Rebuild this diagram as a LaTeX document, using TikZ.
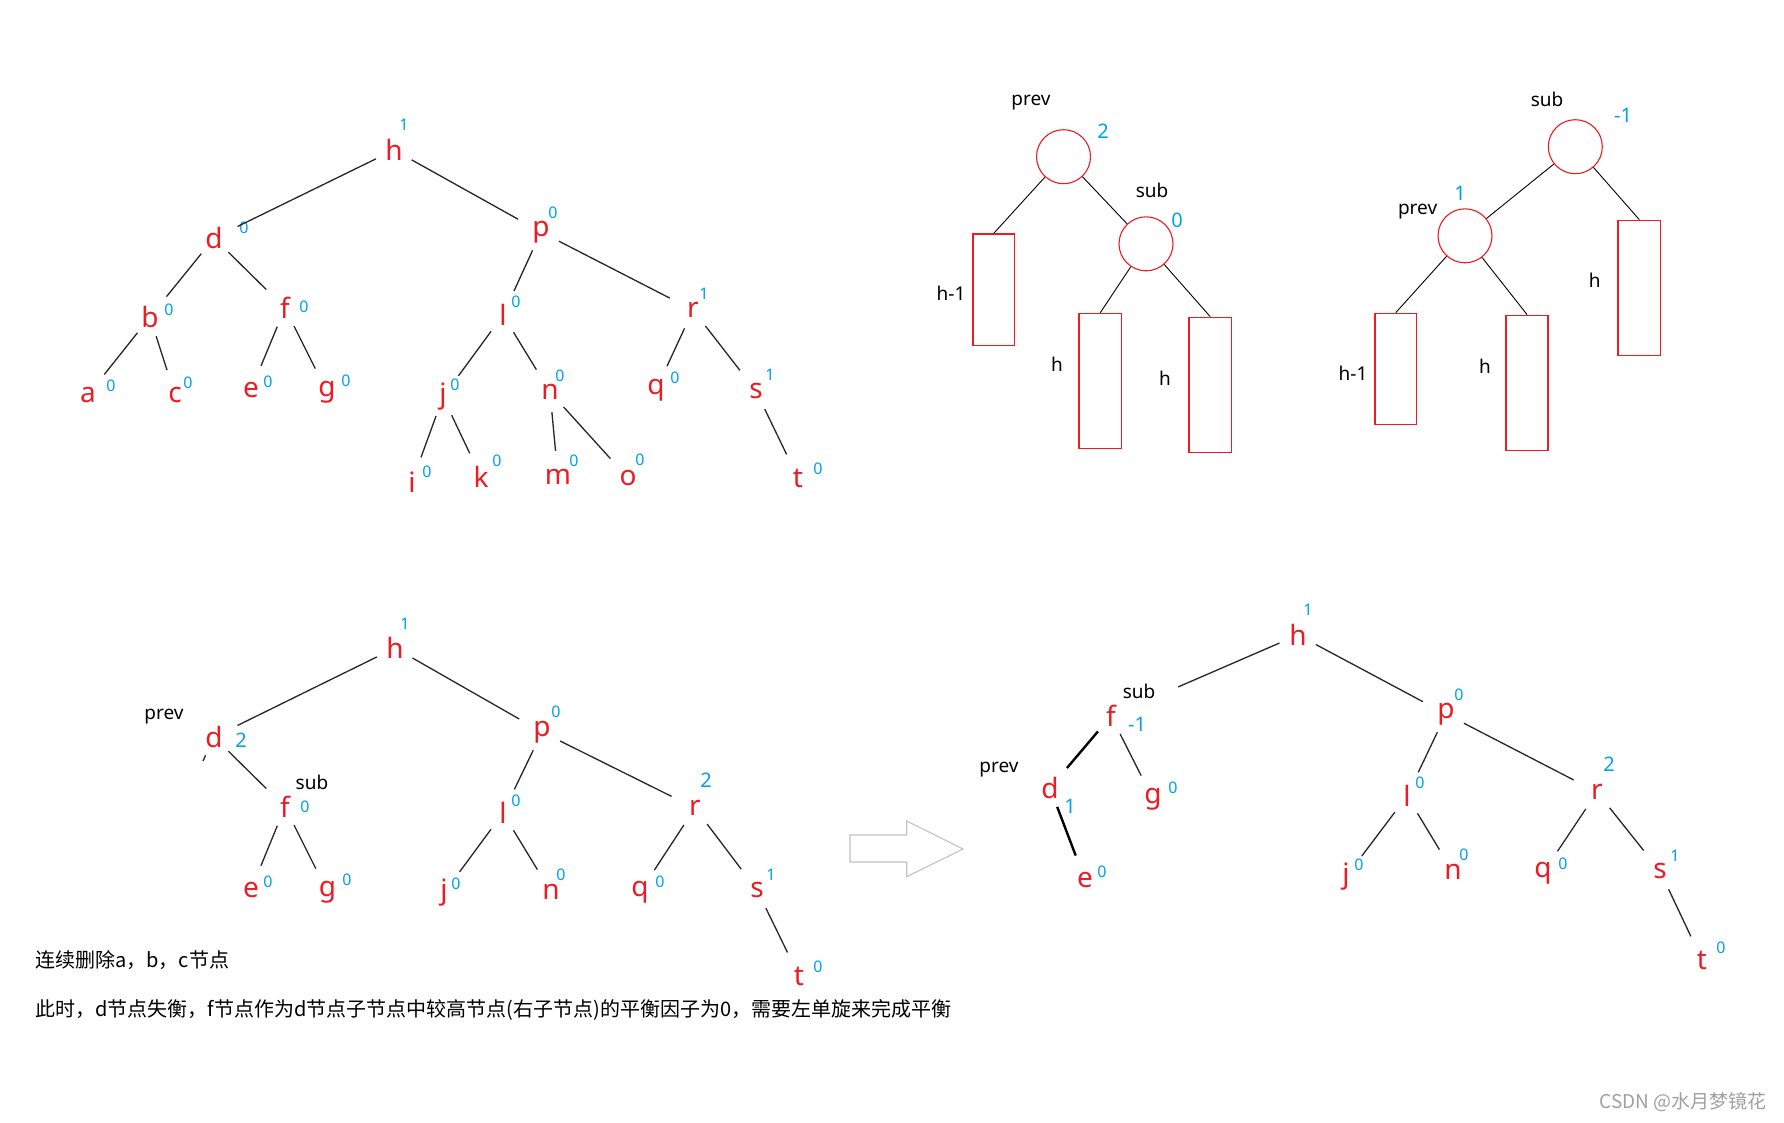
\documentclass[tikz,border=0pt]{standalone}
\usepackage{fontspec}
\setmainfont{Noto Sans}
\newfontfamily\cjk{Noto Sans CJK SC}
\definecolor{nred}{RGB}{237,28,36}
\definecolor{nblue}{RGB}{0,162,232}
\definecolor{ngray}{RGB}{195,195,195}
\definecolor{wmgray}{RGB}{160,160,160}
\newcommand\mytreefont{\fontsize{28}{30}\selectfont}
\newcommand\mybffont{\fontsize{16}{18}\selectfont}
\newcommand\mybigbffont{\fontsize{20}{22}\selectfont}
\newcommand\mylabfont{\fontsize{19}{21}\selectfont}
\newcommand\mytxtfont{\cjk\fontsize{20}{22}\selectfont}
\newcommand\mywmfont{\cjk\fontsize{19}{21}\selectfont}
\begin{document}
\begin{tikzpicture}[x=1pt,y=-1pt,
  tn/.style={circle,inner sep=0pt,minimum size=40pt,text=nred,font=\mytreefont},
  bf/.style={inner sep=0pt,text=nblue,font=\mybffont},
  bfb/.style={inner sep=0pt,text=nblue,font=\mybigbffont},
  blab/.style={inner sep=0pt,text=black,font=\mylabfont},
  tedge/.style={draw=black!85,line width=1.3pt,shorten >=6pt},
  thedge/.style={draw=black,line width=2.4pt,shorten >=6pt},
  dedge/.style={draw=black,line width=0.9pt},
  rring/.style={circle,draw=nred,line width=1.1pt,minimum size=54pt,inner sep=0pt},
  rbox/.style={rectangle,draw=nred,line width=1.3pt,inner sep=0pt},
  txt/.style={inner sep=0pt,anchor=west,font=\mytxtfont}
]
\fill[white] (0,0) rectangle (1784,1122);
\useasboundingbox (0,0) rectangle (1784,1122);

% ---------------- top-left tree ----------------
\node[tn] (Ah) at (394,150) {h};  \node[bf] (Ah1) at (404,125) {1};
\node[tn] (Ad) at (214,238) {d};  \node[bf] (Ad1) at (244,228) {0};
\node[tn] (Ap) at (541,232) {p};  \node[bf] (Ap1) at (553,213) {0};
\node[tn] (Ab) at (150,317) {b};  \node[bf] (Ab1) at (169,310) {0};
\node[tn] (Af) at (285,308) {f};  \node[bf] (Af1) at (304,307) {0};
\node[tn] (Al) at (503,315) {l};  \node[bf] (Al1) at (516,302) {0};
\node[tn] (Ar) at (693,310) {r};  \node[bf] (Ar1) at (704,294) {1};
\node[tn] (Aa) at (88,395) {a};   \node[bf] (Aa1) at (111,386) {0};
\node[tn] (Ac) at (175,395) {c};  \node[bf] (Ac1) at (188,383) {0};
\node[tn] (Ae) at (251,390) {e};  \node[bf] (Ae1) at (268,382) {0};
\node[tn] (Ag) at (327,392) {g};  \node[bf] (Ag1) at (346,381) {0};
\node[tn] (Aj) at (443,397) {j};  \node[bf] (Aj1) at (455,385) {0};
\node[tn] (An) at (550,392) {n};  \node[bf] (An1) at (560,376) {0};
\node[tn] (Aq) at (656,390) {q};  \node[bf] (Aq1) at (675,378) {0};
\node[tn] (As) at (756,391) {s};  \node[bf] (As1) at (770,375) {1};
\node[tn] (Ai) at (412,482) {i};  \node[bf] (Ai1) at (427,472) {0};
\node[tn] (Ak) at (481,477) {k};  \node[bf] (Ak1) at (497,461) {0};
\node[tn] (Am) at (558,477) {m};  \node[bf] (Am1) at (574,461) {0};
\node[tn] (Ao) at (628,478) {o};  \node[bf] (Ao1) at (640,460) {0};
\node[tn] (At) at (798,478) {t};  \node[bf] (At1) at (818,469) {0};
\draw[tedge] (Ah) -- (Ad);
\draw[tedge] (Ah) -- (Ap);
\draw[tedge] (Ad) -- (Ab);
\draw[tedge] (Ad) -- (Af);
\draw[tedge] (Ap) -- (Al);
\draw[tedge] (Ap) -- (Ar);
\draw[tedge] (Ab) -- (Aa);
\draw[tedge] (Ab) -- (Ac);
\draw[tedge] (Af) -- (Ae);
\draw[tedge] (Af) -- (Ag);
\draw[tedge] (Al) -- (Aj);
\draw[tedge] (Al) -- (An);
\draw[tedge] (Ar) -- (Aq);
\draw[tedge] (Ar) -- (As);
\draw[tedge] (Aj) -- (Ai);
\draw[tedge] (Aj) -- (Ak);
\draw[tedge] (An) -- (Am);
\draw[tedge] (An) -- (Ao);
\draw[tedge] (As) -- (At);

% ---------------- top-right diagram (before) ----------------
\node[rring] (Bc1) at (1063.5,156.7) {};
\node[blab] (Bprev) at (1031,103) {prev};
\node[bfb] (Bc1b) at (1103,131) {2};
\node[rring] (Bc2) at (1146,243.8) {};
\node[blab] (Bsub) at (1152,190) {sub};
\node[bfb] (Bc2b) at (1177,220) {0};
\node[rbox,minimum width=41.5pt,minimum height=111.7pt] (Br1) at (993.75,289.8) {};
\node[rbox,minimum width=42.6pt,minimum height=135pt] (Br2) at (1100.3,380.8) {};
\node[rbox,minimum width=42.5pt,minimum height=135pt] (Br3) at (1210.25,384.8) {};
\node[blab] (Bl1) at (951,293) {h-1};
\node[blab] (Bl2) at (1057,364) {h};
\node[blab] (Bl3) at (1165,378) {h};
\draw[dedge] (Bc1) -- (Br1.north);
\draw[dedge] (Bc1) -- (Bc2);
\draw[dedge] (Bc2) -- (Br2.north);
\draw[dedge] (Bc2) -- (Br3.north);

% ---------------- top-right diagram (after) ----------------
\node[rring] (Cc1) at (1575.3,146.7) {};
\node[blab] (Csub) at (1547,99) {sub};
\node[bfb] (Cc1b) at (1623,115) {-1};
\node[rring] (Cc2) at (1465,235.8) {};
\node[blab] (Cprev) at (1417.6,212) {prev};
\node[bfb] (Cc2b) at (1460,193) {1};
\node[rbox,minimum width=41.5pt,minimum height=111pt] (Cr1) at (1395.75,368.8) {};
\node[rbox,minimum width=42pt,minimum height=135pt] (Cr2) at (1527,382.7) {};
\node[rbox,minimum width=42.6pt,minimum height=135pt] (Cr3) at (1639.3,287.8) {};
\node[blab] (Cl1) at (1353,373) {h-1};
\node[blab] (Cl2) at (1485,366) {h};
\node[blab] (Cl3) at (1594.6,280.7) {h};
\draw[dedge] (Cc1) -- (Cc2);
\draw[dedge] (Cc1) -- (Cr3.north);
\draw[dedge] (Cc2) -- (Cr1.north);
\draw[dedge] (Cc2) -- (Cr2.north);

% ---------------- bottom-left tree ----------------
\node[tn] (Dh) at (395,648) {h};  \node[bf] (Dh1) at (405,624) {1};
\node[tn] (Dd) at (214,737) {d};  \node[bfb] (Dd1) at (241,740) {2};
\node[blab] (Dprev) at (164,717) {prev};
\node[tn] (Dp) at (542,732) {p};  \node[bf] (Dp1) at (556,712) {0};
\node[tn] (Df) at (285,807) {f};  \node[bf] (Df1) at (305,807) {0};
\node[blab] (Dsub) at (312,782) {sub};
\node[tn] (Dl) at (503,813) {l};  \node[bf] (Dl1) at (516,801) {0};
\node[tn] (Dr) at (695,808) {r};  \node[bfb] (Dr1) at (706,780) {2};
\node[tn] (De) at (251,890) {e};  \node[bf] (De1) at (268,882) {0};
\node[tn] (Dg) at (327.5,892) {g}; \node[bf] (Dg1) at (347,880) {0};
\node[tn] (Dj) at (444,893) {j};  \node[bf] (Dj1) at (456,884) {0};
\node[tn] (Dn) at (551,892) {n};  \node[bf] (Dn1) at (561,875) {0};
\node[tn] (Dq) at (640,892) {q};  \node[bf] (Dq1) at (660,882) {0};
\node[tn] (Ds) at (757,890) {s};  \node[bf] (Ds1) at (771,875) {1};
\node[tn] (Dt) at (799,976) {t};  \node[bf] (Dt1) at (818,967) {0};
\coordinate (Dstub) at (203,761);
\draw[tedge] (Dh) -- (Dd);
\draw[tedge] (Dh) -- (Dp);
\draw[tedge] (Dd) -- (Df);
\draw[tedge,shorten >=0pt] (Dd) -- (Dstub);
\draw[tedge] (Dp) -- (Dl);
\draw[tedge] (Dp) -- (Dr);
\draw[tedge] (Df) -- (De);
\draw[tedge] (Df) -- (Dg);
\draw[tedge] (Dl) -- (Dj);
\draw[tedge] (Dl) -- (Dn);
\draw[tedge] (Dr) -- (Dq);
\draw[tedge] (Dr) -- (Ds);
\draw[tedge] (Ds) -- (Dt);

\node[txt] (T1) at (35,960) {连续删除a，b，c节点};
\node[txt] (T2) at (35,1010) {此时，d节点失衡，f节点作为d节点子节点中较高节点(右子节点)的平衡因子为0，需要左单旋来完成平衡};

% ---------------- hollow arrow ----------------
\draw[ngray,line width=1.1pt,line join=miter] (850,835) -- (906.7,835) -- (906.7,821) -- (963,849) -- (906.7,876.7) -- (906.7,862) -- (850,862) -- cycle;

% ---------------- bottom-right tree ----------------
\node[tn] (Eh) at (1298,635) {h};  \node[bf] (Eh1) at (1308,610) {1};
\node[tn] (Ef) at (1111,716) {f};  \node[bfb] (Ef1) at (1137,724) {-1};
\node[blab] (Esub) at (1139,691) {sub};
\node[tn] (Ep) at (1446,714) {p};  \node[bf] (Ep1) at (1459,695) {0};
\node[tn] (Ed) at (1050,788) {d};  \node[bfb] (Ed1) at (1070,806) {1};
\node[blab] (Eprev) at (999,770) {prev};
\node[tn] (Eg) at (1153,799) {g};  \node[bf] (Eg1) at (1173,788) {0};
\node[tn] (El) at (1407,796) {l};  \node[bf] (El1) at (1420,783) {0};
\node[tn] (Er) at (1597,792) {r};  \node[bfb] (Er1) at (1609,764) {2};
\node[tn] (Ee) at (1085,880) {e};  \node[bf] (Ee1) at (1102,872) {0};
\node[tn] (Ej) at (1346,877) {j};  \node[bf] (Ej1) at (1359,865) {0};
\node[tn] (En) at (1453,872) {n};  \node[bf] (En1) at (1464,855) {0};
\node[tn] (Eq) at (1543,873) {q};  \node[bf] (Eq1) at (1563,864) {0};
\node[tn] (Es) at (1660,871) {s};  \node[bf] (Es1) at (1675,856) {1};
\node[tn] (Et) at (1702,960) {t};  \node[bf] (Et1) at (1721,948) {0};
\draw[tedge,shorten >=53pt] (Eh) -- (Ef);
\draw[tedge] (Eh) -- (Ep);
\draw[thedge] (Ef) -- (Ed);
\draw[tedge] (Ef) -- (Eg);
\draw[thedge] (Ed) -- (Ee);
\draw[tedge] (Ep) -- (El);
\draw[tedge] (Ep) -- (Er);
\draw[tedge] (El) -- (Ej);
\draw[tedge] (El) -- (En);
\draw[tedge] (Er) -- (Eq);
\draw[tedge] (Er) -- (Es);
\draw[tedge] (Es) -- (Et);

\node[inner sep=0pt,text=wmgray,font=\mywmfont] (WM) at (1683,1102) {CSDN @水月梦镜花};
\end{tikzpicture}
\end{document}
